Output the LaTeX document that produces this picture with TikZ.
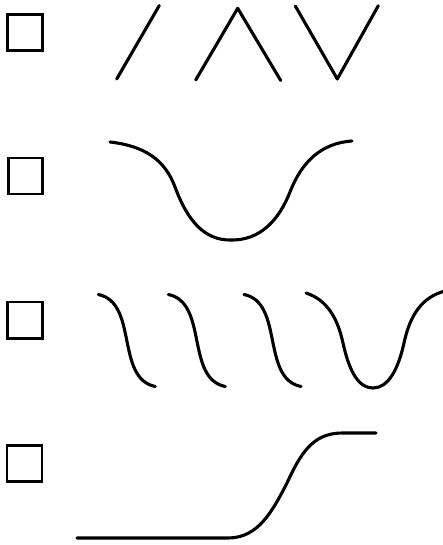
\documentclass[tikz,border=0pt]{standalone}
\begin{document}
\begin{tikzpicture}[x=1pt,y=-1pt,
  checkbox/.style={draw=black,line width=2.6pt},
  stroke/.style={draw=black,line width=3.1pt,line cap=round,line join=round}]
\useasboundingbox[fill=white] (0,0) rectangle (442,545);
% check boxes
\draw[checkbox] (7.5,14.5) rectangle (42.5,50.5);
\draw[checkbox] (8.5,158) rectangle (42.5,194);
\draw[checkbox] (7.5,302) rectangle (42.5,338.5);
\draw[checkbox] (7,445.5) rectangle (42,481.5);
% row 1
\draw[stroke] (116.7,79) -- (159.3,5.5);
\draw[stroke] (195.7,80) -- (237.7,8.3) -- (280.7,80.5);
\draw[stroke] (295.3,6) -- (337.3,79) -- (378.3,5.7);
% row 2
\draw[stroke] (110,142) .. controls (145,146) and (165,160) .. (175,187)
  .. controls (188,222) and (205,240) .. (230,240)
  .. controls (260,241) and (279,220) .. (290,192)
  .. controls (302,161) and (322,143) .. (352,141);
% row 3
\foreach \sx in {98.3,168.3,244} {
  \draw[stroke] (\sx,294.5) .. controls +(40,8) and +(-40,-8) .. ++(57,92);
}
\draw[stroke] (306,293) .. controls (328,300) and (338,320) .. (343,343)
  .. controls (350,375) and (360,388) .. (373,388)
  .. controls (388,388) and (398,370) .. (404,343)
  .. controls (410,315) and (422,297) .. (445,291);
% row 4
\draw[stroke] (77,538) -- (228,538)
  .. controls (258,538) and (272,512) .. (287,483)
  .. controls (300,455) and (312,433) .. (342,433) -- (376,433);
\end{tikzpicture}
\end{document}
